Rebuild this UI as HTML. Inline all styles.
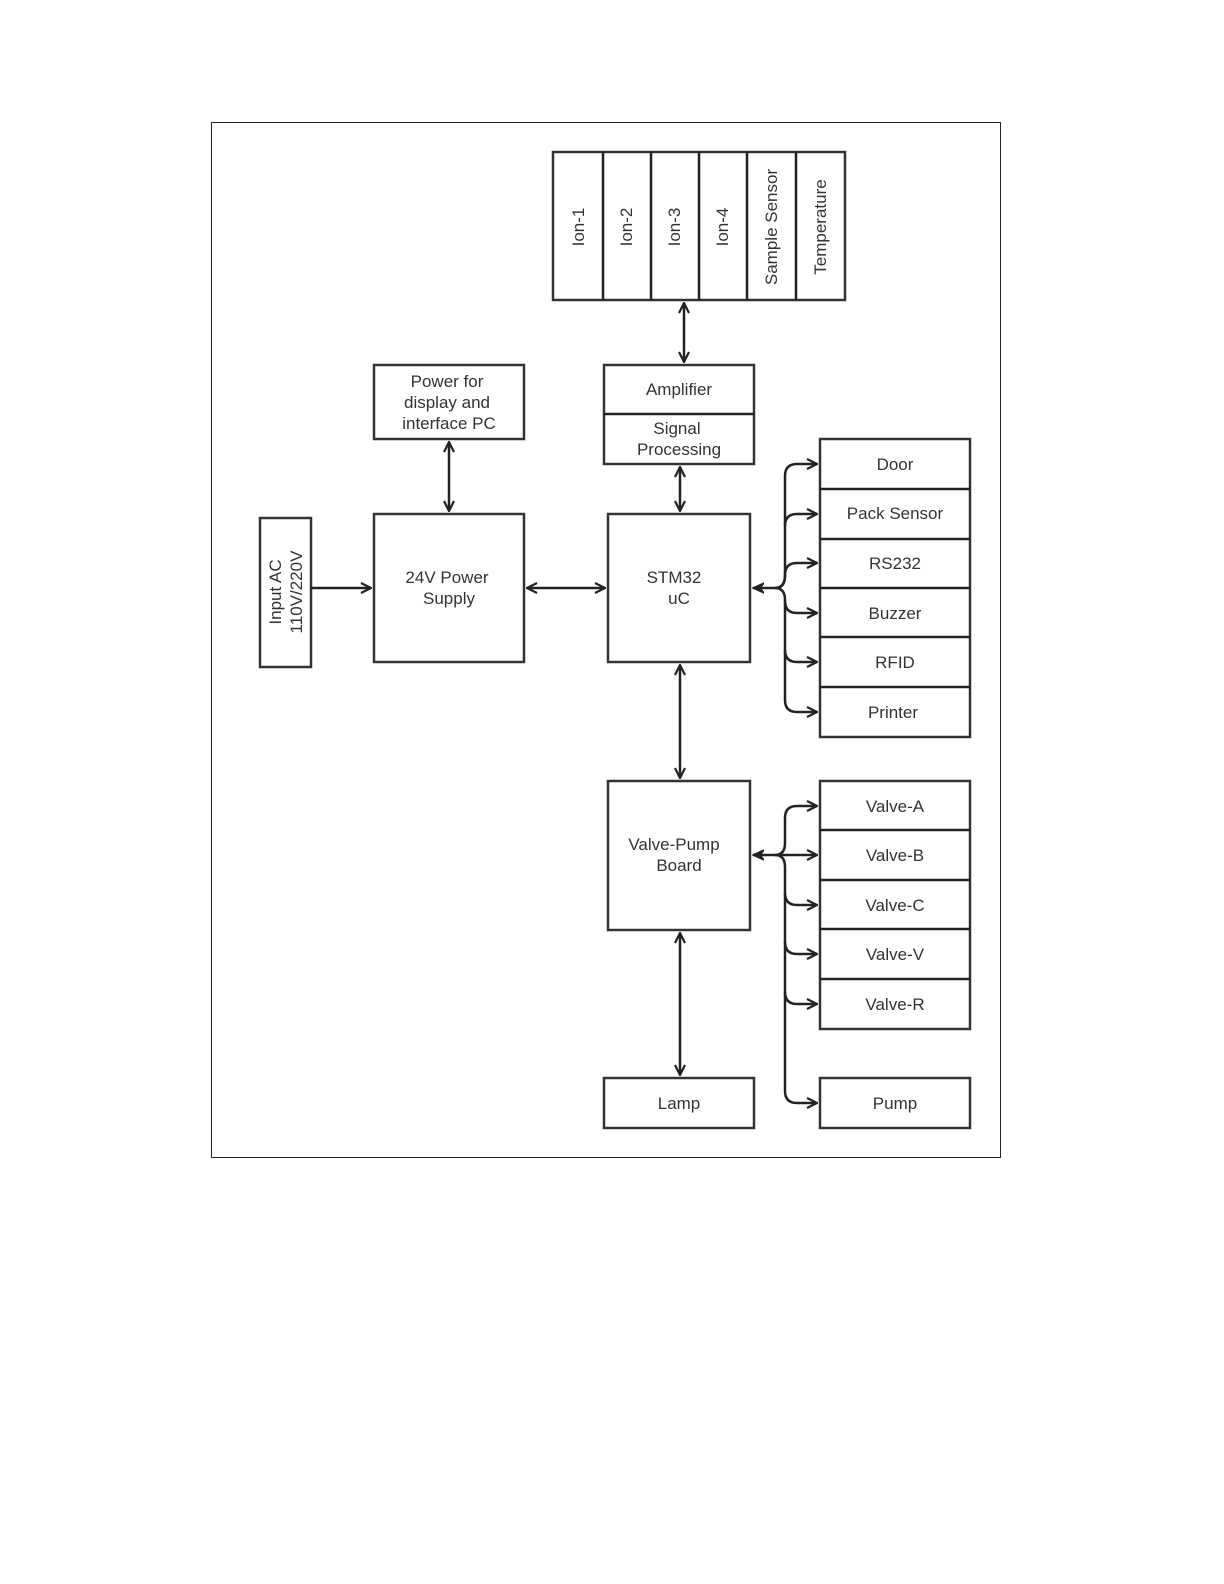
<!DOCTYPE html>
<html><head><meta charset="utf-8"><style>
html,body{margin:0;padding:0;background:#fff;}
svg{display:block;}
text{font-family:"Liberation Sans",sans-serif;font-size:17px;fill:#333;text-anchor:middle;}
.b{fill:#fff;stroke:#333;stroke-width:2.5;}
.c{fill:none;stroke:#222;stroke-width:2.5;}
</style></head><body>
<svg width="1224" height="1584" viewBox="0 0 1224 1584" xmlns="http://www.w3.org/2000/svg">
<defs>
<marker id="a" viewBox="0 0 12 12" refX="11" refY="6" markerWidth="12" markerHeight="12" markerUnits="userSpaceOnUse" orient="auto-start-reverse">
<path d="M1,1 L11,6 L1,11" fill="none" stroke="#222" stroke-width="2.2"/></marker>
<marker id="s" viewBox="0 0 12 12" refX="1" refY="6" markerWidth="12" markerHeight="12" markerUnits="userSpaceOnUse" orient="auto">
<path d="M12,1 L1,6 L12,11 L8,6 Z" fill="#222" stroke="#222" stroke-width="1.5"/></marker>
</defs>
<rect x="211.5" y="122.5" width="789" height="1035" fill="none" stroke="#222" stroke-width="1"/>

<!-- sensors -->
<rect class="b" x="553" y="152" width="292" height="148"/>
<g class="c"><line x1="603" y1="152" x2="603" y2="300"/><line x1="651" y1="152" x2="651" y2="300"/><line x1="699" y1="152" x2="699" y2="300"/><line x1="747" y1="152" x2="747" y2="300"/><line x1="796" y1="152" x2="796" y2="300"/></g>
<text transform="translate(584,227) rotate(-90)">Ion-1</text>
<text transform="translate(632,227) rotate(-90)">Ion-2</text>
<text transform="translate(680,227) rotate(-90)">Ion-3</text>
<text transform="translate(728,227) rotate(-90)">Ion-4</text>
<text transform="translate(777,227) rotate(-90)">Sample Sensor</text>
<text transform="translate(826,227) rotate(-90)">Temperature</text>

<!-- amplifier -->
<rect class="b" x="604" y="365" width="150" height="99"/>
<line class="c" x1="604" y1="414" x2="754" y2="414"/>
<text x="679" y="395">Amplifier</text>
<text x="677" y="434">Signal</text>
<text x="679" y="455">Processing</text>

<!-- power for display -->
<rect class="b" x="374" y="365" width="150" height="74"/>
<text x="447" y="387">Power for</text>
<text x="447" y="408">display and</text>
<text x="449" y="429">interface PC</text>

<!-- input AC -->
<rect class="b" x="260" y="518" width="51" height="149"/>
<text transform="translate(281,592) rotate(-90)">Input AC</text>
<text transform="translate(302,592) rotate(-90)">110V/220V</text>

<!-- 24V -->
<rect class="b" x="374" y="514" width="150" height="148"/>
<text x="447" y="583">24V Power</text>
<text x="449" y="604">Supply</text>

<!-- STM32 -->
<rect class="b" x="608" y="514" width="142" height="148"/>
<text x="674" y="583">STM32</text>
<text x="679" y="604">uC</text>

<!-- right list -->
<rect class="b" x="820" y="439" width="150" height="298"/>
<g class="c"><line x1="820" y1="489" x2="970" y2="489"/><line x1="820" y1="539" x2="970" y2="539"/><line x1="820" y1="588" x2="970" y2="588"/><line x1="820" y1="637" x2="970" y2="637"/><line x1="820" y1="687" x2="970" y2="687"/></g>
<text x="895" y="470">Door</text>
<text x="895" y="519">Pack Sensor</text>
<text x="895" y="569">RS232</text>
<text x="895" y="619">Buzzer</text>
<text x="895" y="668">RFID</text>
<text x="893" y="718">Printer</text>

<!-- valve pump -->
<rect class="b" x="608" y="781" width="142" height="149"/>
<text x="674" y="850">Valve-Pump</text>
<text x="679" y="871">Board</text>

<rect class="b" x="820" y="781" width="150" height="248"/>
<g class="c"><line x1="820" y1="830" x2="970" y2="830"/><line x1="820" y1="880" x2="970" y2="880"/><line x1="820" y1="929" x2="970" y2="929"/><line x1="820" y1="979" x2="970" y2="979"/></g>
<text x="895" y="812">Valve-A</text>
<text x="895" y="861">Valve-B</text>
<text x="895" y="911">Valve-C</text>
<text x="895" y="960">Valve-V</text>
<text x="895" y="1010">Valve-R</text>

<rect class="b" x="604" y="1078" width="150" height="50"/>
<text x="679" y="1109">Lamp</text>
<rect class="b" x="820" y="1078" width="150" height="50"/>
<text x="895" y="1109">Pump</text>

<!-- connectors -->
<g class="c">
<line x1="684" y1="303" x2="684" y2="362" marker-start="url(#a)" marker-end="url(#a)"/>
<line x1="449" y1="442" x2="449" y2="511" marker-start="url(#a)" marker-end="url(#a)"/>
<line x1="311" y1="588" x2="371" y2="588" marker-end="url(#a)"/>
<line x1="527" y1="588" x2="605" y2="588" marker-start="url(#a)" marker-end="url(#a)"/>
<line x1="680" y1="467" x2="680" y2="511" marker-start="url(#a)" marker-end="url(#a)"/>
<line x1="680" y1="665" x2="680" y2="778" marker-start="url(#a)" marker-end="url(#a)"/>
<line x1="680" y1="933" x2="680" y2="1075" marker-start="url(#a)" marker-end="url(#a)"/>

<line x1="753" y1="588" x2="775" y2="588" marker-start="url(#s)"/>
<path d="M775,588 Q785,588 785,576 L785,476 Q785,464 797,464 L817,464" marker-end="url(#a)"/>
<path d="M785,526 Q785,514 797,514 L817,514" marker-end="url(#a)"/>
<path d="M775,588 Q785,588 785,575 Q785,563 797,563 L817,563" marker-end="url(#a)"/>
<path d="M775,588 Q785,588 785,600 L785,700 Q785,712 797,712 L817,712" marker-end="url(#a)"/>
<path d="M785,601 Q785,613 797,613 L817,613" marker-end="url(#a)"/>
<path d="M785,650 Q785,662 797,662 L817,662" marker-end="url(#a)"/>

<line x1="753" y1="855" x2="817" y2="855" marker-start="url(#s)" marker-end="url(#a)"/>
<path d="M775,855 Q785,855 785,843 L785,818 Q785,806 797,806 L817,806" marker-end="url(#a)"/>
<path d="M775,855 Q785,855 785,867 L785,1091 Q785,1103 797,1103 L817,1103" marker-end="url(#a)"/>
<path d="M785,893 Q785,905 797,905 L817,905" marker-end="url(#a)"/>
<path d="M785,942 Q785,954 797,954 L817,954" marker-end="url(#a)"/>
<path d="M785,992 Q785,1004 797,1004 L817,1004" marker-end="url(#a)"/>
</g>
</svg>
</body></html>
